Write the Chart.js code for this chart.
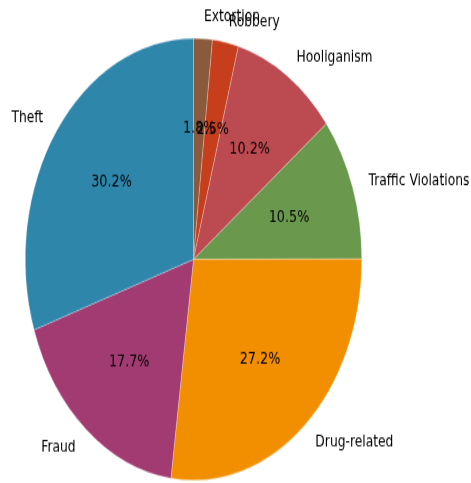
<!DOCTYPE html>
<html>
<head>
<meta charset="utf-8">
<script src="https://cdn.jsdelivr.net/npm/chart.js@4"></script>
<style>
  html, body { margin: 0; padding: 0; background: #fff; }
  body { width: 471px; height: 483px; overflow: hidden; }
  #wrap { width: 471px; height: 369px; transform: scaleY(1.313); transform-origin: 0 0; }
</style>
</head>
<body>
<div id="wrap"><canvas id="crime-chart" width="471" height="369"></canvas></div>
<script>
// listed counter-clockwise from the top, as in the picture
const categories = ['Theft', 'Fraud', 'Drug-related', 'Traffic Violations', 'Hooliganism', 'Robbery', 'Extortion'];
const shares = [30.2, 17.7, 27.2, 10.5, 10.2, 2.5, 1.8];
const colors = ['#2E86AB', '#A23B72', '#F18F01', '#6A994E', '#BC4B51', '#C73E1D', '#8B5A3C'];

// Chart.js goes clockwise, so flip the order
const labels = categories.slice().reverse();
const values = shares.slice().reverse();
const sliceColors = colors.slice().reverse();

const pieLabels = {
  id: 'pieLabels',
  afterDatasetsDraw(chart) {
    const ctx = chart.ctx;
    const meta = chart.getDatasetMeta(0);
    const total = values.reduce((a, b) => a + b, 0);
    ctx.save();
    ctx.fillStyle = '#000';
    ctx.textBaseline = 'middle';
    meta.data.forEach((arc, i) => {
      const p = arc.getProps(['x', 'y', 'startAngle', 'endAngle', 'outerRadius'], true);
      const mid = (p.startAngle + p.endAngle) / 2;
      const c = Math.cos(mid), s = Math.sin(mid);
      // category name outside
      ctx.font = '12.3px "DejaVu Sans"';
      ctx.textAlign = c >= 0 ? 'left' : 'right';
      ctx.fillText(labels[i], p.x + c * p.outerRadius * 1.1, p.y + s * p.outerRadius * 1.1 + 0.5);
      // percentage inside
      ctx.font = '12.8px "DejaVu Sans"';
      ctx.textAlign = 'center';
      const pct = (values[i] / total * 100).toFixed(1) + '%';
      ctx.fillText(pct, p.x + c * p.outerRadius * 0.6, p.y + s * p.outerRadius * 0.6 + 0.5);
    });
    ctx.restore();
  }
};

new Chart(document.getElementById('crime-chart'), {
  type: 'pie',
  data: {
    labels: labels,
    datasets: [{
      data: values,
      backgroundColor: sliceColors,
      borderColor: 'rgba(255,255,255,0.5)',
      borderWidth: 0.5
    }]
  },
  options: {
    responsive: false,
    animation: false,
    layout: { padding: { left: 25, right: 109, top: 29, bottom: 3 } },
    plugins: {
      legend: { display: false },
      tooltip: { enabled: false }
    }
  },
  plugins: [pieLabels]
});
</script>
</body>
</html>
